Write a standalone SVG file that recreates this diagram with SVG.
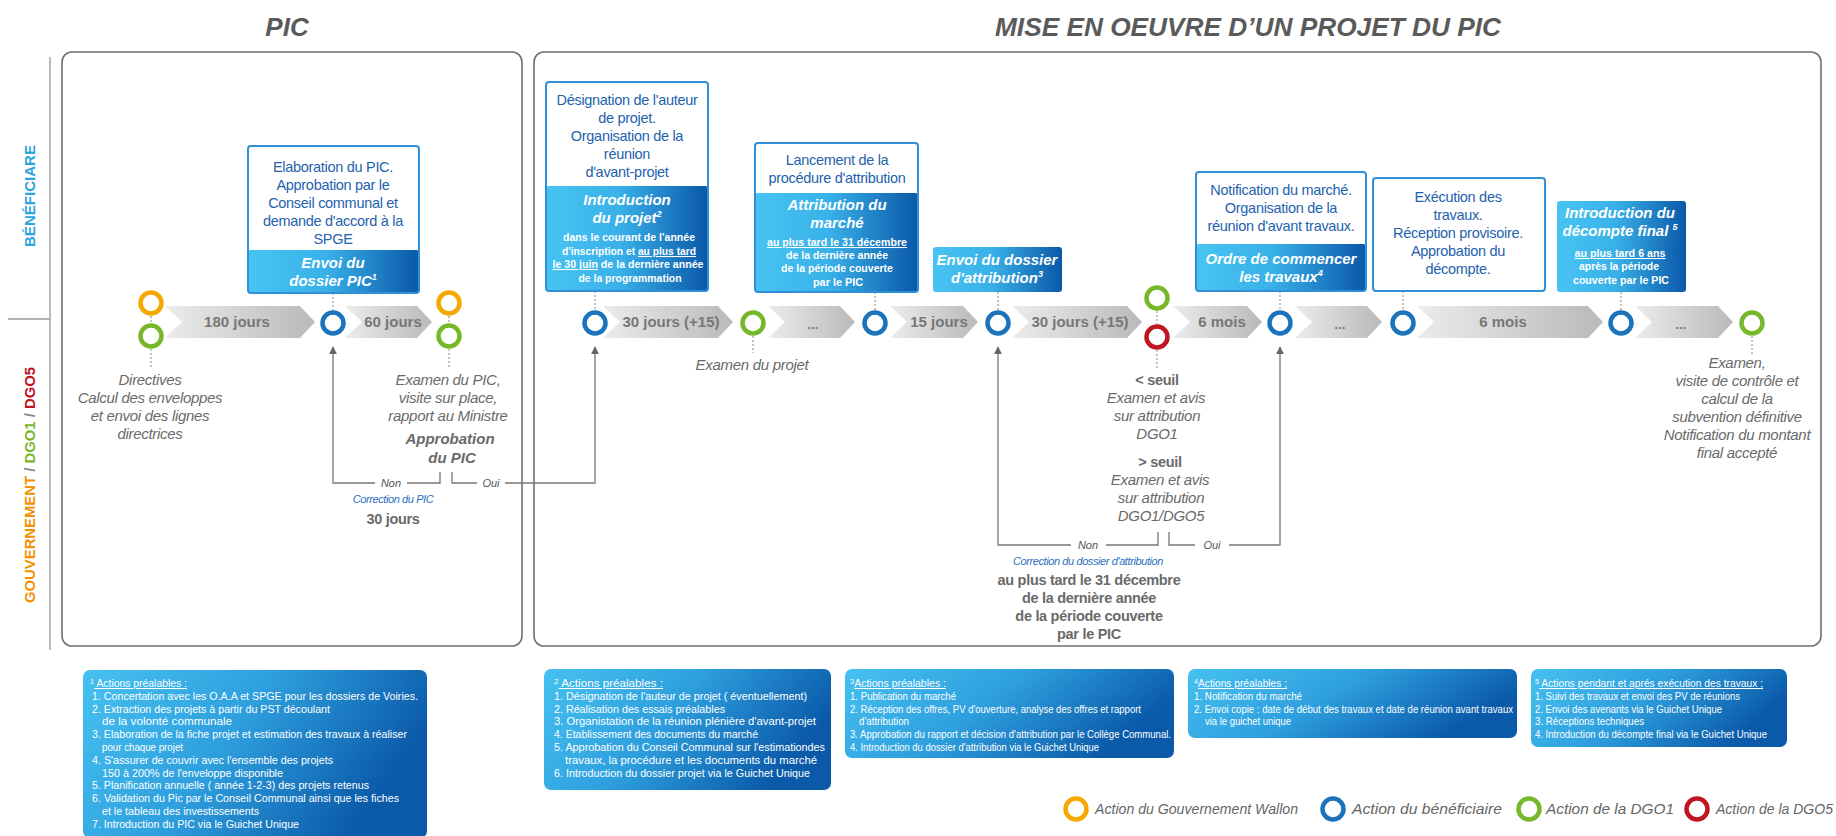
<svg xmlns="http://www.w3.org/2000/svg" width="1836" height="836" viewBox="0 0 1836 836">
<defs>
<linearGradient id="gb" x1="0" y1="0" x2="1" y2="0">
<stop offset="0" stop-color="#48c4f2"/>
<stop offset="0.45" stop-color="#39b1e9"/>
<stop offset="1" stop-color="#0a58a8"/>
</linearGradient>
<linearGradient id="gf" x1="0" y1="0" x2="1" y2="0.35">
<stop offset="0" stop-color="#46c1f0"/>
<stop offset="0.5" stop-color="#2e9fde"/>
<stop offset="1" stop-color="#0a5aa9"/>
</linearGradient>
<linearGradient id="gc" x1="0" y1="0" x2="1" y2="0">
<stop offset="0" stop-color="#ececec"/>
<stop offset="1" stop-color="#b9b9b9"/>
</linearGradient>
<marker id="ah" viewBox="0 0 10 10" refX="9" refY="5" markerWidth="8" markerHeight="8" markerUnits="userSpaceOnUse" orient="auto">
<path d="M0,0 L10,5 L0,10 z" fill="#666"/>
</marker>
</defs>
<style>
text{font-family:"Liberation Sans",Arial,sans-serif}
.title{font-size:26px;font-weight:bold;font-style:italic;fill:#5a5a5a}
.frame{fill:none;stroke:#707070;stroke-width:1.6}
.bw{fill:#fff}
.bo{fill:none;stroke:#2f8fd8;stroke-width:2}
.bt{font-size:14.5px;fill:#2462ad;text-anchor:middle;letter-spacing:-0.3px}
.bh{font-size:15px;font-weight:bold;font-style:italic;fill:#fff;text-anchor:middle}
.bs{font-size:10.5px;font-weight:bold;fill:#fff;text-anchor:middle}
.it{font-size:15px;font-style:italic;fill:#6a6a6a;text-anchor:middle;letter-spacing:-0.3px}
.bi{font-size:15px;font-style:italic;font-weight:bold;fill:#6a6a6a;text-anchor:middle}
.bg{font-size:14.5px;font-weight:bold;fill:#6a6a6a;text-anchor:middle;letter-spacing:-0.3px}
.ct{font-size:15px;font-weight:bold;fill:#777;text-anchor:middle}
.dots{font-size:13px;font-weight:bold;fill:#777;text-anchor:middle}
.chev{fill:url(#gc)}
.ring{fill:#fff;stroke-width:4.5}
.o{stroke:#f6a800}.b{stroke:#1b74bb}.g{stroke:#77b82a}.r{stroke:#bf1622}
.dot{stroke:#888;stroke-width:1;stroke-dasharray:2 2;fill:none}
.ln{stroke:#777;stroke-width:1.3;fill:none}
.no{font-size:11px;font-style:italic;fill:#555;text-anchor:middle}
.cor{font-size:11px;font-style:italic;fill:#2b6fc0;text-anchor:middle;letter-spacing:-0.4px}
.fn{font-size:10.5px;fill:#fff}
.leg{font-size:14.5px;font-style:italic;fill:#666}
.u{text-decoration:underline}
</style>

<g id="titles">
<text class="title" x="287" y="36" text-anchor="middle">PIC</text>
<text class="title" x="1248" y="36" text-anchor="middle" textLength="506" lengthAdjust="spacingAndGlyphs">MISE EN OEUVRE D’UN PROJET DU PIC</text>
</g>
<g id="lanes">
<line x1="50" y1="57" x2="50" y2="650" stroke="#bdbdbd" stroke-width="2"/>
<line x1="8" y1="319" x2="50" y2="319" stroke="#999" stroke-width="1.5"/>
<text transform="translate(35,196) rotate(-90)" text-anchor="middle" font-size="14" font-weight="bold" fill="#2ea3dc" textLength="102" lengthAdjust="spacingAndGlyphs">BÉNÉFICIARE</text>
<text transform="translate(35,485) rotate(-90)" text-anchor="middle" font-size="14" font-weight="bold" textLength="236" lengthAdjust="spacingAndGlyphs"><tspan fill="#f39200">GOUVERNEMENT</tspan><tspan fill="#888"> / </tspan><tspan fill="#77b82a">DGO1</tspan><tspan fill="#888"> / </tspan><tspan fill="#c1121f">DGO5</tspan></text>
</g>
<g id="frames">
<rect class="frame" x="62" y="52" width="460" height="594" rx="10"/>
<rect class="frame" x="534" y="52" width="1287" height="594" rx="10"/>
</g>

<g id="durations">
<polygon class="chev" points="165,306 300,306 315,322 300,338 165,338 182,322"/>
<text class="ct" x="237" y="327">180 jours</text>
<polygon class="chev" points="345,306 417,306 432,322 417,338 345,338 362,322"/>
<text class="ct" x="393" y="327">60 jours</text>
<polygon class="chev" points="603,306 718,306 733,322 718,338 603,338 620,322"/>
<text class="ct" x="671" y="327">30 jours (+15)</text>
<polygon class="chev" points="768,306 840,306 855,322 840,338 768,338 785,322"/>
<text class="dots" x="813" y="329">...</text>
<polygon class="chev" points="890,306 963,306 978,322 963,338 890,338 907,322"/>
<text class="ct" x="939" y="327">15 jours</text>
<polygon class="chev" points="1012,306 1127,306 1142,322 1127,338 1012,338 1029,322"/>
<text class="ct" x="1080" y="327">30 jours (+15)</text>
<polygon class="chev" points="1173,306 1247,306 1262,322 1247,338 1173,338 1190,322"/>
<text class="ct" x="1222" y="327">6 mois</text>
<polygon class="chev" points="1295,306 1367,306 1382,322 1367,338 1295,338 1312,322"/>
<text class="dots" x="1340" y="329">...</text>
<polygon class="chev" points="1417,306 1588,306 1603,322 1588,338 1417,338 1434,322"/>
<text class="ct" x="1503" y="327">6 mois</text>
<polygon class="chev" points="1635,306 1718,306 1733,322 1718,338 1635,338 1652,322"/>
<text class="dots" x="1681" y="329">...</text>
</g>

<g id="connectors">
<path class="dot" d="M151,316 V323 M151,349 V368 M449,316 V323 M449,349 V368 M333,293 V310 M595,291 V310 M753,336 V353 M875,292 V310 M998,292 V310 M1157,311 V324 M1157,350 V368 M1280,291 V310 M1403,291 V310 M1621,292 V310 M1752,336 V356"/>
<path class="ln" d="M440,472 V483 H407"/>
<path class="ln" d="M375,483 H333 V347" marker-end="url(#ah)"/>
<path class="ln" d="M452,472 V483 H477"/>
<path class="ln" d="M505,483 H595 V347" marker-end="url(#ah)"/>
<text class="no" x="391" y="487">Non</text>
<text class="no" x="491" y="487">Oui</text>
<path class="ln" d="M1158,532 V545 H1106"/>
<path class="ln" d="M1071,545 H998 V347" marker-end="url(#ah)"/>
<path class="ln" d="M1169,532 V545 H1195"/>
<path class="ln" d="M1229,545 H1280 V347" marker-end="url(#ah)"/>
<text class="no" x="1088" y="549">Non</text>
<text class="no" x="1212" y="549">Oui</text>
</g>

<g id="milestones">
<circle class="ring o" cx="151" cy="303" r="10.5"/>
<circle class="ring g" cx="151" cy="336" r="10.5"/>
<circle class="ring b" cx="333" cy="323" r="10.5"/>
<circle class="ring o" cx="449" cy="303" r="10.5"/>
<circle class="ring g" cx="449" cy="336" r="10.5"/>
<circle class="ring b" cx="595" cy="323" r="10.5"/>
<circle class="ring g" cx="753" cy="323" r="10.5"/>
<circle class="ring b" cx="875" cy="323" r="10.5"/>
<circle class="ring b" cx="998" cy="323" r="10.5"/>
<circle class="ring g" cx="1157" cy="298" r="10.5"/>
<circle class="ring r" cx="1157" cy="337" r="10.5"/>
<circle class="ring b" cx="1280" cy="323" r="10.5"/>
<circle class="ring b" cx="1403" cy="323" r="10.5"/>
<circle class="ring b" cx="1621" cy="323" r="10.5"/>
<circle class="ring g" cx="1752" cy="323" r="10.5"/>
</g>

<g id="box-elaboration">
<rect class="bw" x="248" y="146" width="171" height="147" rx="3"/>
<rect x="248" y="250" width="171" height="43" rx="3" fill="url(#gb)"/>
<rect class="bo" x="248" y="146" width="171" height="147" rx="3"/>
<text class="bt" x="333" y="172">Elaboration du PIC.</text>
<text class="bt" x="333" y="190">Approbation par le</text>
<text class="bt" x="333" y="208">Conseil communal et</text>
<text class="bt" x="333" y="226">demande d'accord à la</text>
<text class="bt" x="333" y="244">SPGE</text>
<text class="bh" x="333" y="268">Envoi du</text>
<text class="bh" x="333" y="286">dossier PIC<tspan font-size="9" dy="-6">1</tspan></text>
</g>

<g id="box-introduction-projet">
<rect class="bw" x="546" y="82" width="162" height="209" rx="3"/>
<rect x="546" y="186" width="162" height="105" rx="3" fill="url(#gb)"/>
<rect class="bo" x="546" y="82" width="162" height="209" rx="3"/>
<text class="bt" x="627" y="105">Désignation de l'auteur</text>
<text class="bt" x="627" y="123">de projet.</text>
<text class="bt" x="627" y="141">Organisation de la</text>
<text class="bt" x="627" y="159">réunion</text>
<text class="bt" x="627" y="177">d'avant-projet</text>
<text class="bh" x="627" y="205">Introduction</text>
<text class="bh" x="627" y="223">du projet<tspan font-size="9" dy="-6">2</tspan></text>
<text class="bs" x="629" y="241" textLength="132" lengthAdjust="spacingAndGlyphs">dans le courant de l'année</text>
<text class="bs" x="629" y="255" textLength="134" lengthAdjust="spacingAndGlyphs">d'inscription et <tspan class="u">au plus tard</tspan></text>
<text class="bs" x="628" y="268" textLength="151" lengthAdjust="spacingAndGlyphs"><tspan class="u">le 30 juin</tspan> de la dernière année</text>
<text class="bs" x="630" y="282" textLength="103" lengthAdjust="spacingAndGlyphs">de la programmation</text>
</g>

<g id="box-attribution">
<rect class="bw" x="755" y="143" width="163" height="149" rx="3"/>
<rect x="755" y="193" width="163" height="99" rx="3" fill="url(#gb)"/>
<rect class="bo" x="755" y="143" width="163" height="149" rx="3"/>
<text class="bt" x="837" y="165">Lancement de la</text>
<text class="bt" x="837" y="183">procédure d'attribution</text>
<text class="bh" x="837" y="210">Attribution du</text>
<text class="bh" x="837" y="228">marché</text>
<text class="bs u" x="837" y="246" textLength="140" lengthAdjust="spacingAndGlyphs">au plus tard le 31 décembre</text>
<text class="bs" x="837" y="259" textLength="102" lengthAdjust="spacingAndGlyphs">de la dernière année</text>
<text class="bs" x="837" y="272" textLength="112" lengthAdjust="spacingAndGlyphs">de la période couverte</text>
<text class="bs" x="838" y="286" textLength="50" lengthAdjust="spacingAndGlyphs">par le PIC</text>
</g>

<g id="box-envoi-attribution">
<rect x="933" y="247" width="129" height="45" rx="3" fill="url(#gb)"/>
<text class="bh" x="997" y="265">Envoi du dossier</text>
<text class="bh" x="997" y="283">d'attribution<tspan font-size="9" dy="-6">3</tspan></text>
</g>

<g id="box-ordre">
<rect class="bw" x="1196" y="172" width="170" height="119" rx="3"/>
<rect x="1196" y="244" width="170" height="47" rx="3" fill="url(#gb)"/>
<rect class="bo" x="1196" y="172" width="170" height="119" rx="3"/>
<text class="bt" x="1281" y="195">Notification du marché.</text>
<text class="bt" x="1281" y="213">Organisation de la</text>
<text class="bt" x="1281" y="231">réunion d'avant travaux.</text>
<text class="bh" x="1281" y="264">Ordre de commencer</text>
<text class="bh" x="1281" y="282">les travaux<tspan font-size="9" dy="-6">4</tspan></text>
</g>

<g id="box-execution">
<rect class="bw" x="1373" y="178" width="172" height="113" rx="3"/>
<rect class="bo" x="1373" y="178" width="172" height="113" rx="3"/>
<text class="bt" x="1458" y="202">Exécution des</text>
<text class="bt" x="1458" y="220">travaux.</text>
<text class="bt" x="1458" y="238">Réception provisoire.</text>
<text class="bt" x="1458" y="256">Approbation du</text>
<text class="bt" x="1458" y="274">décompte.</text>
</g>

<g id="box-decompte">
<rect x="1557" y="201" width="129" height="91" rx="3" fill="url(#gb)"/>
<text class="bh" x="1620" y="218">Introduction du</text>
<text class="bh" x="1620" y="236">décompte final <tspan font-size="9" dy="-6">5</tspan></text>
<text class="bs u" x="1620" y="257" textLength="91" lengthAdjust="spacingAndGlyphs">au plus tard 6 ans</text>
<text class="bs" x="1619" y="270" textLength="80" lengthAdjust="spacingAndGlyphs">après la période</text>
<text class="bs" x="1621" y="284" textLength="96" lengthAdjust="spacingAndGlyphs">couverte par le PIC</text>
</g>

<g id="label-directives">
<text class="it" x="150" y="385">Directives</text>
<text class="it" x="150" y="403">Calcul des enveloppes</text>
<text class="it" x="150" y="421">et envoi des lignes</text>
<text class="it" x="150" y="439">directrices</text>
</g>
<g id="label-examen-pic">
<text class="it" x="448" y="385">Examen du PIC,</text>
<text class="it" x="448" y="403">visite sur place,</text>
<text class="it" x="448" y="421">rapport au Ministre</text>
<text class="bi" x="450" y="444">Approbation</text>
<text class="bi" x="452" y="463">du PIC</text>
<text class="cor" x="393" y="503">Correction du PIC</text>
<text class="bg" x="393" y="524">30 jours</text>
</g>
<g id="label-examen-projet">
<text class="it" x="752" y="370">Examen du projet</text>
</g>
<g id="label-seuil">
<text class="bg" x="1157" y="385">&lt; seuil</text>
<text class="it" x="1156" y="403">Examen et avis</text>
<text class="it" x="1157" y="421">sur attribution</text>
<text class="it" x="1157" y="439">DGO1</text>
<text class="bg" x="1160" y="467">&gt; seuil</text>
<text class="it" x="1160" y="485">Examen et avis</text>
<text class="it" x="1161" y="503">sur attribution</text>
<text class="it" x="1161" y="521">DGO1/DGO5</text>
<text class="cor" x="1088" y="565">Correction du dossier d'attribution</text>
<text class="bg" x="1089" y="585">au plus tard le 31 décembre</text>
<text class="bg" x="1089" y="603">de la dernière année</text>
<text class="bg" x="1089" y="621">de la période couverte</text>
<text class="bg" x="1089" y="639">par le PIC</text>
</g>
<g id="label-examen-final">
<text class="it" x="1737" y="368">Examen,</text>
<text class="it" x="1737" y="386">visite de contrôle et</text>
<text class="it" x="1737" y="404">calcul de la</text>
<text class="it" x="1737" y="422">subvention définitive</text>
<text class="it" x="1737" y="440">Notification du montant</text>
<text class="it" x="1737" y="458">final accepté</text>
</g>

<g id="note-1">
<rect x="83" y="670" width="344" height="168" rx="7" fill="url(#gf)"/>
<text class="fn" x="90" y="687" textLength="97" lengthAdjust="spacingAndGlyphs"><tspan font-size="7.5" dy="-3">1</tspan><tspan class="u" dy="3"> Actions préalables :</tspan></text>
<text class="fn" x="92" y="699.8" textLength="326" lengthAdjust="spacingAndGlyphs">1. Concertation avec les O.A.A et SPGE pour les dossiers de Voiries.</text>
<text class="fn" x="92" y="712.6" textLength="238" lengthAdjust="spacingAndGlyphs">2. Extraction des projets à partir du PST découlant</text>
<text class="fn" x="102" y="725.4" textLength="130" lengthAdjust="spacingAndGlyphs">de la volonté communale</text>
<text class="fn" x="92" y="738.2" textLength="315" lengthAdjust="spacingAndGlyphs">3. Elaboration de la fiche projet et estimation des travaux à réaliser</text>
<text class="fn" x="102" y="751" textLength="81" lengthAdjust="spacingAndGlyphs">pour chaque projet</text>
<text class="fn" x="92" y="763.8" textLength="241" lengthAdjust="spacingAndGlyphs">4. S'assurer de couvrir avec l'ensemble des projets</text>
<text class="fn" x="102" y="776.6" textLength="181" lengthAdjust="spacingAndGlyphs">150 à 200% de l'enveloppe disponible</text>
<text class="fn" x="92" y="789.4" textLength="277" lengthAdjust="spacingAndGlyphs">5. Planification annuelle ( année 1-2-3) des projets retenus</text>
<text class="fn" x="92" y="802.2" textLength="307" lengthAdjust="spacingAndGlyphs">6. Validation du Pic par le Conseil Communal ainsi que les fiches</text>
<text class="fn" x="102" y="815" textLength="157" lengthAdjust="spacingAndGlyphs">et le tableau des investissements</text>
<text class="fn" x="92" y="827.8" textLength="207" lengthAdjust="spacingAndGlyphs">7. Introduction du PIC via le Guichet Unique</text>
</g>
<g id="note-2">
<rect x="544" y="669" width="287" height="121" rx="7" fill="url(#gf)"/>
<text class="fn" x="554" y="687" textLength="109" lengthAdjust="spacingAndGlyphs"><tspan font-size="7.5" dy="-3">2</tspan><tspan class="u" dy="3"> Actions préalables :</tspan></text>
<text class="fn" x="554" y="699.8" textLength="253" lengthAdjust="spacingAndGlyphs">1. Désignation de l'auteur de projet ( éventuellement)</text>
<text class="fn" x="554" y="712.6" textLength="171" lengthAdjust="spacingAndGlyphs">2. Réalisation des essais préalables</text>
<text class="fn" x="554" y="725.4" textLength="262" lengthAdjust="spacingAndGlyphs">3. Organistation de la réunion plénière d'avant-projet</text>
<text class="fn" x="554" y="738.2" textLength="204" lengthAdjust="spacingAndGlyphs">4. Etablissement des documents du marché</text>
<text class="fn" x="554" y="751" textLength="271" lengthAdjust="spacingAndGlyphs">5. Approbation du Conseil Communal sur l'estimationdes</text>
<text class="fn" x="565" y="763.8" textLength="252" lengthAdjust="spacingAndGlyphs">travaux, la procédure et les documents du marché</text>
<text class="fn" x="554" y="776.6" textLength="256" lengthAdjust="spacingAndGlyphs">6. Introduction du dossier projet via le Guichet Unique</text>
</g>
<g id="note-3">
<rect x="845" y="669" width="329" height="89" rx="7" fill="url(#gf)"/>
<text class="fn" x="850" y="687" textLength="96" lengthAdjust="spacingAndGlyphs"><tspan font-size="7.5" dy="-3">3</tspan><tspan class="u" dy="3">Actions préalables :</tspan></text>
<text class="fn" x="850" y="699.8" textLength="106" lengthAdjust="spacingAndGlyphs">1. Publication du marché</text>
<text class="fn" x="850" y="712.6" textLength="291" lengthAdjust="spacingAndGlyphs">2. Réception des offres, PV d'ouverture, analyse des offres et rapport</text>
<text class="fn" x="859" y="725.4" textLength="50" lengthAdjust="spacingAndGlyphs">d'attribution</text>
<text class="fn" x="850" y="738.2" textLength="321" lengthAdjust="spacingAndGlyphs">3. Approbation du rapport et décision d'attribution par le Collège Communal.</text>
<text class="fn" x="850" y="751" textLength="249" lengthAdjust="spacingAndGlyphs">4. Introduction du dossier d'attribution via le Guichet Unique</text>
</g>
<g id="note-4">
<rect x="1188" y="669" width="329" height="69" rx="7" fill="url(#gf)"/>
<text class="fn" x="1194" y="687" textLength="93" lengthAdjust="spacingAndGlyphs"><tspan font-size="7.5" dy="-3">4</tspan><tspan class="u" dy="3">Actions  préalables ;</tspan></text>
<text class="fn" x="1194" y="699.8" textLength="108" lengthAdjust="spacingAndGlyphs">1. Notification  du marché</text>
<text class="fn" x="1194" y="712.6" textLength="319" lengthAdjust="spacingAndGlyphs">2. Envoi copie :  date de début des travaux et date de réunion avant travaux</text>
<text class="fn" x="1205" y="725.4" textLength="86" lengthAdjust="spacingAndGlyphs">via le guichet unique</text>
</g>
<g id="note-5">
<rect x="1531" y="669" width="256" height="78" rx="7" fill="url(#gf)"/>
<text class="fn" x="1535" y="687" textLength="228" lengthAdjust="spacingAndGlyphs"><tspan font-size="7.5" dy="-3">5</tspan><tspan class="u" dy="3"> Actions pendant et aprés exécution des travaux ;</tspan></text>
<text class="fn" x="1535" y="699.8" textLength="205" lengthAdjust="spacingAndGlyphs">1. Suivi des travaux et envoi des PV de réunions</text>
<text class="fn" x="1535" y="712.6" textLength="187" lengthAdjust="spacingAndGlyphs">2. Envoi des avenants via le Guichet Unique</text>
<text class="fn" x="1535" y="725.4" textLength="109" lengthAdjust="spacingAndGlyphs">3. Réceptions techniques</text>
<text class="fn" x="1535" y="738.2" textLength="232" lengthAdjust="spacingAndGlyphs">4. Introduction du décompte final via le Guichet Unique</text>
</g>

<g id="legend">
<circle class="ring o" cx="1076" cy="809" r="10.5"/>
<text class="leg" x="1095" y="814" textLength="203" lengthAdjust="spacingAndGlyphs">Action du Gouvernement Wallon</text>
<circle class="ring b" cx="1333" cy="809" r="10.5"/>
<text class="leg" x="1352" y="814" textLength="150" lengthAdjust="spacingAndGlyphs">Action du bénéficiaire</text>
<circle class="ring g" cx="1529" cy="809" r="10.5"/>
<text class="leg" x="1546" y="814" textLength="128" lengthAdjust="spacingAndGlyphs">Action de la DGO1</text>
<circle class="ring r" cx="1697" cy="809" r="10.5"/>
<text class="leg" x="1716" y="814" textLength="117" lengthAdjust="spacingAndGlyphs">Action de la DGO5</text>
</g>
</svg>
